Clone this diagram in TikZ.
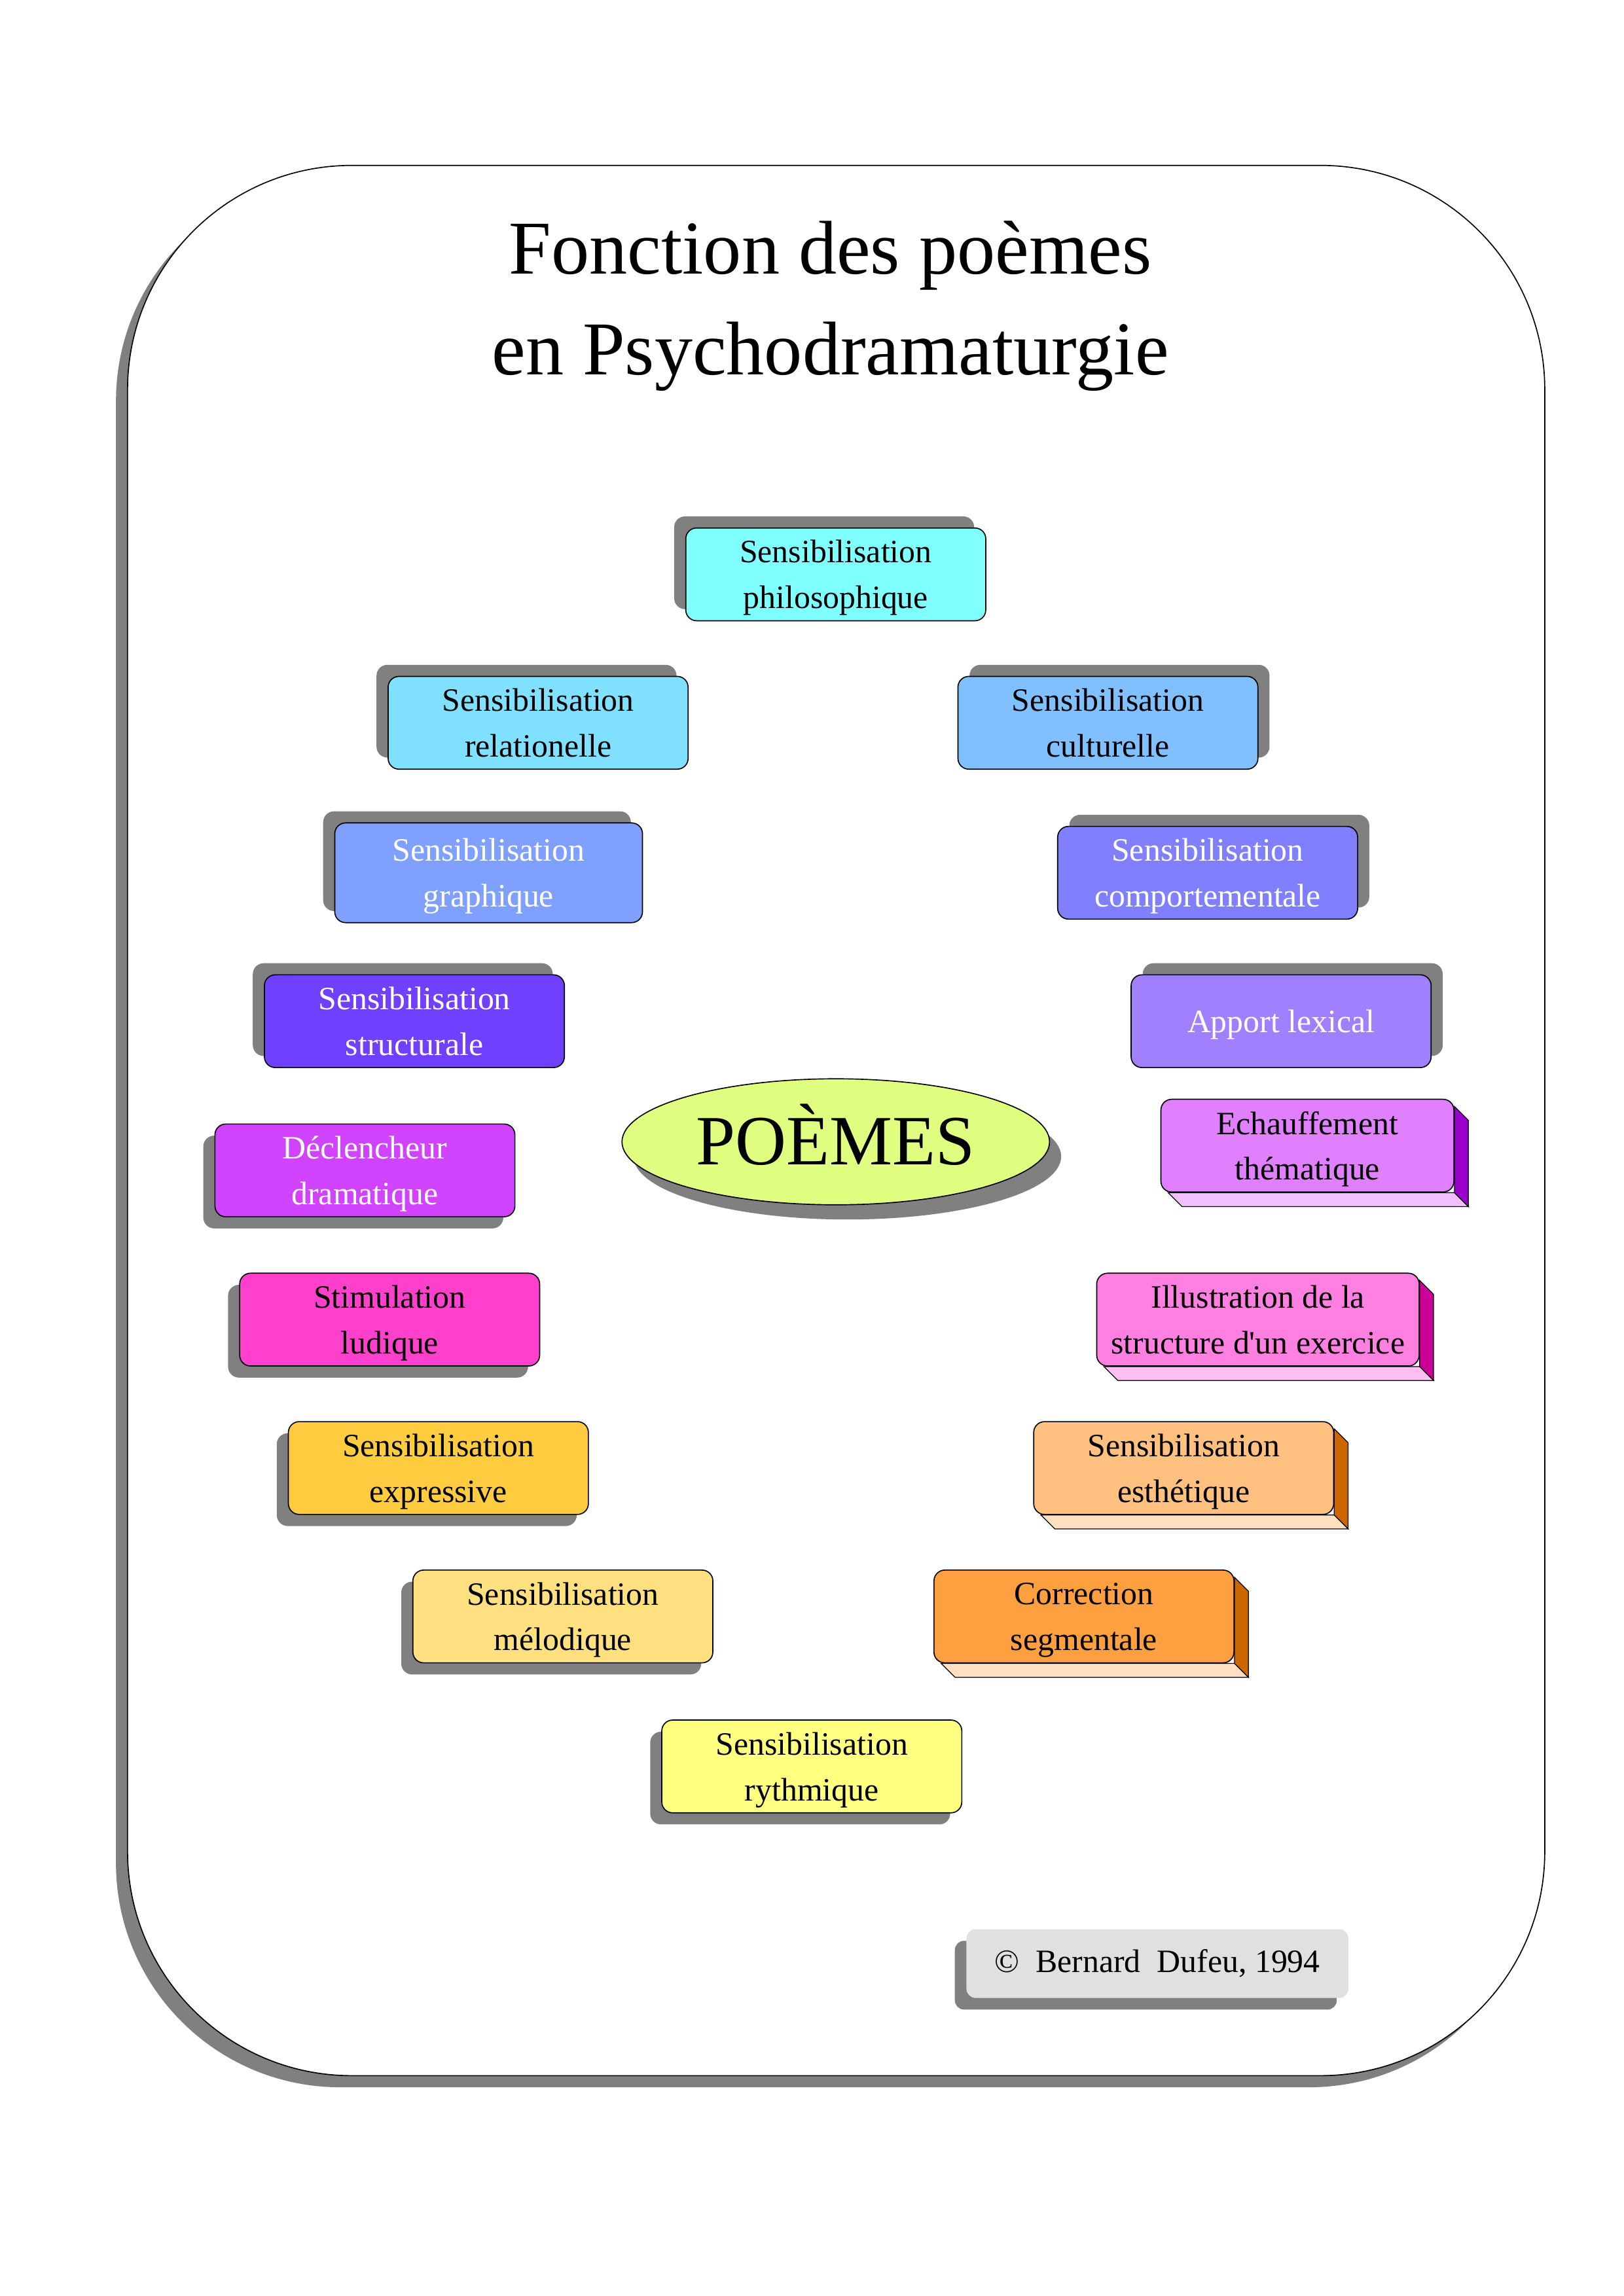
\documentclass[tikz,border=0pt]{standalone}
\usepackage{fontspec}
\setmainfont{Liberation Serif}[Ligatures=TeXOff]
\usepackage{tikz}
\usetikzlibrary{shapes.geometric, shadows, backgrounds}
\definecolor{shadowgray}{RGB}{128, 128, 128}
\definecolor{philocyan}{RGB}{128, 255, 255}
\definecolor{relblue}{RGB}{128, 224, 255}
\definecolor{cultblue}{RGB}{128, 192, 255}
\definecolor{graphblue}{RGB}{128, 160, 255}
\definecolor{compblue}{RGB}{128, 128, 255}
\definecolor{structviolet}{RGB}{112, 64, 255}
\definecolor{lexviolet}{RGB}{160, 128, 255}
\definecolor{declmagenta}{RGB}{208, 68, 255}
\definecolor{echmauve}{RGB}{224, 128, 255}
\definecolor{echside}{RGB}{153, 0, 204}
\definecolor{echbottom}{RGB}{240, 192, 255}
\definecolor{stimpink}{RGB}{255, 64, 204}
\definecolor{illpink}{RGB}{255, 128, 224}
\definecolor{illside}{RGB}{204, 0, 153}
\definecolor{illbottom}{RGB}{255, 192, 240}
\definecolor{exprgold}{RGB}{255, 204, 64}
\definecolor{esthpeach}{RGB}{255, 192, 128}
\definecolor{orangeside}{RGB}{204, 102, 0}
\definecolor{peachbottom}{RGB}{255, 224, 192}
\definecolor{melyellow}{RGB}{255, 224, 128}
\definecolor{corrorange}{RGB}{255, 160, 64}
\definecolor{rythyellow}{RGB}{255, 255, 128}
\definecolor{poemlime}{RGB}{224, 255, 128}
\definecolor{copygray}{RGB}{224, 224, 224}

% extruded edge under and right of a box: node, side colour, bottom colour
\newcommand{\slab}[3]{%
  \draw[fill=#3, line width=0.3pt] ([xshift=0.1cm]#1.south west) -- ([shift={(0.28cm,-0.18cm)}]#1.south west)
    -- ([shift={(0.18cm,-0.18cm)}]#1.south east) -- (#1.south east) -- cycle;
  \draw[fill=#2, line width=0.3pt] ([yshift=-0.1cm]#1.north east) -- ([shift={(0.18cm,-0.28cm)}]#1.north east)
    -- ([shift={(0.18cm,-0.18cm)}]#1.south east) -- (#1.south east) -- cycle;
}

\begin{document}
\begin{tikzpicture}[
    every node/.style={align=center},
    box/.style={draw=black, line width=0.4pt, rounded corners=0.14cm, minimum width=3.88cm, minimum height=1.2cm, inner sep=0pt, text depth=0pt, font=\fontsize{12}{16.8}\selectfont},
    shUL/.style={general shadow={fill=shadowgray, shadow xshift=-0.15cm, shadow yshift=0.15cm}},
    shUR/.style={general shadow={fill=shadowgray, shadow xshift=0.15cm, shadow yshift=0.15cm}},
    shDL/.style={general shadow={fill=shadowgray, shadow xshift=-0.15cm, shadow yshift=-0.15cm}},
    light/.style={text=white}
]
\useasboundingbox (0,0) rectangle (21,29.7);

% Frame
\begin{pgfonlayer}{background}
\node[draw=black, fill=white, line width=0.4pt, rounded corners=2.9cm, minimum width=18.33cm, minimum height=24.71cm, shDL] (frame) at (10.815,15.205) {};
\end{pgfonlayer}

% Title
\node[font=\fontsize{28}{37}\selectfont] (title) at (10.74,25.74) {Fonction des poèmes\\en Psychodramaturgie};

% Left column
\node[box, shUL, fill=philocyan] (philo) at (10.81,22.27) {Sensibilisation\\philosophique};
\node[box, shUL, fill=relblue] (relat) at (6.96,20.35) {Sensibilisation\\relationelle};
\node[box, shUL, light, fill=graphblue, minimum width=3.98cm, minimum height=1.29cm] (graph) at (6.32,18.41) {Sensibilisation\\graphique};
\node[box, shUL, light, fill=structviolet] (struct) at (5.36,16.49) {Sensibilisation\\structurale};
\node[box, shDL, light, fill=declmagenta] (decl) at (4.72,14.56) {Déclencheur\\dramatique};
\node[box, shDL, fill=stimpink] (stim) at (5.04,12.63) {Stimulation\\ludique};
\node[box, shDL, fill=exprgold] (expr) at (5.67,10.71) {Sensibilisation\\expressive};
\node[box, shDL, fill=melyellow] (melo) at (7.28,8.79) {Sensibilisation\\mélodique};
\node[box, shDL, fill=rythyellow] (ryth) at (10.50,6.85) {Sensibilisation\\rythmique};

% Right column
\node[box, shUR, fill=cultblue] (cult) at (14.33,20.35) {Sensibilisation\\culturelle};
\node[box, shUR, light, fill=compblue] (comp) at (15.62,18.41) {Sensibilisation\\comportementale};
\node[box, shUR, light, fill=lexviolet] (lex) at (16.57,16.49) {Apport lexical};
\node[box, fill=echmauve, minimum width=3.79cm] (ech) at (16.91,14.88) {Echauffement\\thématique};
\node[box, fill=illpink, minimum width=4.17cm] (illus) at (16.27,12.63) {Illustration de la\\structure d'un exercice};
\node[box, fill=esthpeach] (esth) at (15.31,10.71) {Sensibilisation\\esthétique};
\node[box, fill=corrorange] (corr) at (14.02,8.79) {Correction\\segmentale};

% Centre
\node[ellipse, draw=black, line width=0.4pt, fill=poemlime, minimum width=5.53cm, minimum height=1.63cm, inner sep=0pt,
  text height=17pt, text depth=0pt, font=\fontsize{26}{30}\selectfont,
  general shadow={fill=shadowgray, shadow xshift=0.15cm, shadow yshift=-0.19cm}] (poemes) at (10.81,14.93) {POÈMES};

% Copyright
\node[fill=copygray, rounded corners=0.12cm, minimum width=4.94cm, minimum height=0.89cm, inner sep=0pt,
  font=\fontsize{12}{14}\selectfont, shDL] (copy) at (14.97,4.30) {©~~Bernard~~Dufeu, 1994};

% 3D edges
\begin{scope}[on background layer]
\slab{ech}{echside}{echbottom}
\slab{illus}{illside}{illbottom}
\slab{esth}{orangeside}{peachbottom}
\slab{corr}{orangeside}{peachbottom}
\end{scope}

\end{tikzpicture}
\end{document}
